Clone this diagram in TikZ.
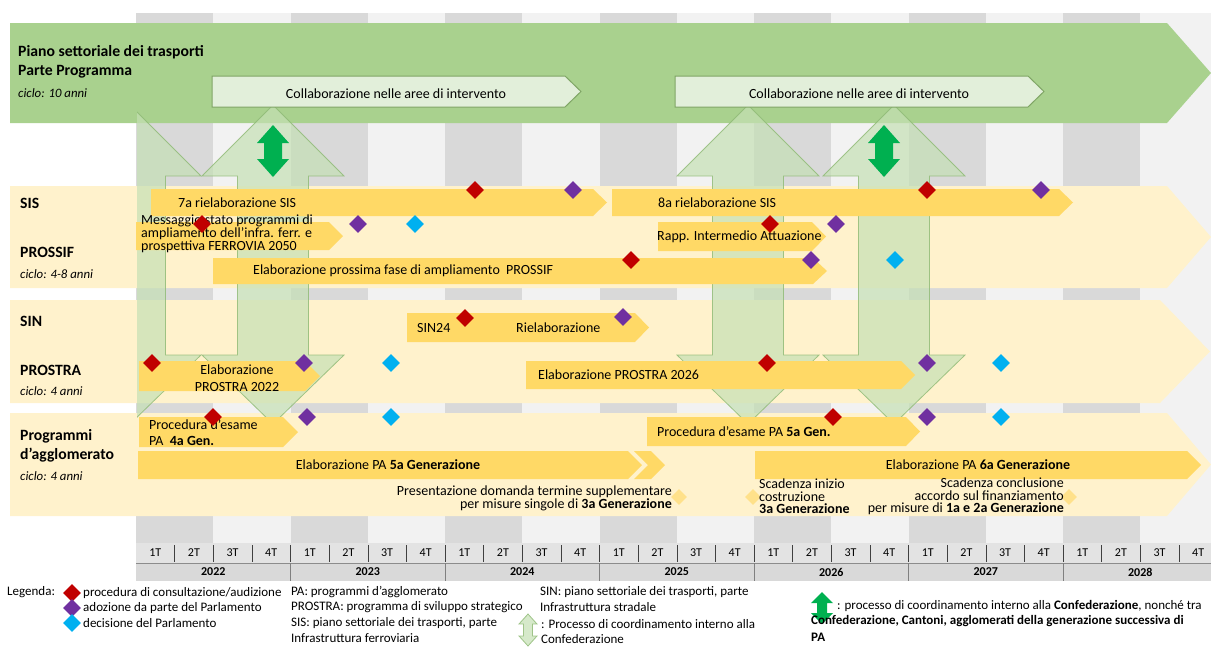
\documentclass[tikz,border=0pt]{standalone}
\usepackage{fontspec}
\setmainfont{Carlito}
\usetikzlibrary{shapes.geometric}
\definecolor{pstgreen}{HTML}{A9D18E}
\definecolor{collabfill}{HTML}{E2EFDA}
\definecolor{collabline}{HTML}{7FA565}
\definecolor{bandyellow}{HTML}{FFF2CC}
\definecolor{barorange}{HTML}{FFD966}
\definecolor{stripegray}{HTML}{D9D9D9}
\definecolor{stripelight}{HTML}{F2F2F2}
\definecolor{coordfill}{HTML}{C5E0B4}
\definecolor{coordline}{HTML}{8DB973}
\definecolor{coordgreen}{HTML}{00B050}
\definecolor{consred}{HTML}{C00000}
\definecolor{adopurple}{HTML}{7030A0}
\definecolor{decblue}{HTML}{00B0F0}
\definecolor{milestone}{HTML}{FFE18A}
\definecolor{axisgray}{HTML}{D9D9D9}
\definecolor{axisrow}{HTML}{E3E3E3}
\begin{document}
\begin{tikzpicture}[x=1pt,y=-1pt,
	txt/.style={inner sep=0pt,font=\fontsize{14}{12}\selectfont},
	lbl/.style={inner sep=0pt,anchor=west,font=\fontsize{15.7}{15}\selectfont\bfseries},
	cyc/.style={inner sep=0pt,anchor=west,font=\fontsize{12.8}{13}\selectfont\itshape},
	leg/.style={inner sep=0pt,anchor=west,font=\fontsize{13}{15}\selectfont},
	axl/.style={inner sep=0pt,font=\fontsize{12}{12}\selectfont},
	ganttbar/.style={fill=barorange},
	diam/.style={diamond,inner sep=0pt,minimum width=18pt,minimum height=18pt},
	cons/.style={diam,fill=consred},
	adop/.style={diam,fill=adopurple},
	deci/.style={diam,fill=decblue},
	mstone/.style={diamond,inner sep=0pt,minimum width=16pt,minimum height=16pt,fill=milestone},
	coord/.style={fill=coordfill,fill opacity=0.7,draw=coordline,draw opacity=0.8,line width=0.8pt}]
	\useasboundingbox (0,0) rectangle (1211,646);
	\foreach \k in {0,...,6} {
		\fill[stripegray] ({136+154.5*\k},13) rectangle ({213.25+154.5*\k},543);
		\fill[stripelight] ({213.25+154.5*\k},13) rectangle ({min(290.5+154.5*\k,1211)},543);
	}
	\fill[pstgreen] (10,23) -- (1167,23) -- (1211,73) -- (1167,123) -- (10,123) -- cycle;
	\fill[bandyellow] (10,186) -- (1167,186) -- (1211,237) -- (1167,288) -- (10,288) -- cycle;
	\fill[bandyellow] (10,300) -- (1160,300) -- (1210,351.5) -- (1160,403) -- (10,403) -- cycle;
	\fill[bandyellow] (10,413) -- (1167,413) -- (1211,464.5) -- (1167,516) -- (10,516) -- cycle;
	\begin{scope}
		\clip (137,0) rectangle (1211,646);
		\draw[coord] (130,105) -- (201,176) -- (165.5,176) -- (165.5,355) -- (201,355) -- (130,424) -- (59,355) -- (94.5,355) -- (94.5,176) -- (59,176) -- cycle;
	\end{scope}
	\draw[coord] (273,105) -- (344,176) -- (308.5,176) -- (308.5,355) -- (344,355) -- (273,424) -- (202,355) -- (237.5,355) -- (237.5,176) -- (202,176) -- cycle;
	\draw[coord] (748,105) -- (819,176) -- (783.5,176) -- (783.5,355) -- (819,355) -- (748,424) -- (677,355) -- (712.5,355) -- (712.5,176) -- (677,176) -- cycle;
	\draw[coord] (894,105) -- (965,176) -- (929.5,176) -- (929.5,355) -- (965,355) -- (894,424) -- (823,355) -- (858.5,355) -- (858.5,176) -- (823,176) -- cycle;
	\draw[fill=collabfill, draw=collabline, line width=1pt] (212,76) -- (565,76) -- (581,91.5) -- (565,107) -- (212,107) -- cycle;
	\draw[fill=collabfill, draw=collabline, line width=1pt] (675,76) -- (1028,76) -- (1044,91.5) -- (1028,107) -- (675,107) -- cycle;
	\node[txt] (collab1) at (396,94) {Collaborazione nelle aree di intervento};
	\node[txt] (collab2) at (859,94) {Collaborazione nelle aree di intervento};
	\fill[coordgreen] (273,125) -- (289,143) -- (282,143) -- (282,159) -- (289,159) -- (273,177) -- (257,159) -- (264,159) -- (264,143) -- (257,143) -- cycle;
	\fill[coordgreen] (884,125) -- (900,143) -- (893,143) -- (893,159) -- (900,159) -- (884,177) -- (868,159) -- (875,159) -- (875,143) -- (868,143) -- cycle;
	\node[lbl] (pst) at (18,52) {Piano settoriale dei trasporti};
	\node[lbl] (pstprog) at (18,72) {Parte Programma};
	\node[cyc] (pstcyc) at (18,93) {ciclo: 10 anni};
	\node[lbl] (sis) at (20,203) {SIS};
	\node[lbl] (prossif) at (20,252) {PROSSIF};
	\node[cyc] (prossifcyc) at (20,274) {ciclo: 4-8 anni};
	\node[lbl] (sin) at (20,321) {SIN};
	\node[lbl] (prostra) at (20,370) {PROSTRA};
	\node[cyc] (prostracyc) at (20,391) {ciclo: 4 anni};
	\node[lbl] (pa) at (20,436) {Programmi};
	\node[lbl] (paaggl) at (20,455) {d’agglomerato};
	\node[cyc] (pacyc) at (20,476) {ciclo: 4 anni};
	\fill[ganttbar] (151,189) -- (593,189) -- (607,202.5) -- (593,216) -- (151,216) -- cycle;
	\fill[ganttbar] (612,189) -- (1059,189) -- (1073,202.5) -- (1059,216) -- (612,216) -- cycle;
	\fill[ganttbar] (136,222) -- (329,222) -- (343,236) -- (329,250) -- (136,250) -- cycle;
	\fill[ganttbar] (213,258) -- (813,258) -- (827,271) -- (813,284) -- (213,284) -- cycle;
	\fill[ganttbar] (658,222) -- (812,222) -- (826,236.5) -- (812,251) -- (658,251) -- cycle;
	\fill[ganttbar] (407,313) -- (635,313) -- (649,327.5) -- (635,342) -- (407,342) -- cycle;
	\fill[ganttbar] (139,361) -- (305,361) -- (320,376) -- (305,391) -- (139,391) -- cycle;
	\fill[ganttbar] (526,361) -- (901,361) -- (915,375) -- (901,389) -- (526,389) -- cycle;
	\fill[ganttbar] (139,417) -- (283,417) -- (298,432) -- (283,447) -- (139,447) -- cycle;
	\fill[ganttbar] (138,451) -- (628,451) -- (642,465) -- (628,479) -- (138,479) -- cycle;
	\fill[ganttbar] (634,451) -- (651,451) -- (665,465) -- (651,479) -- (634,479) -- (648,465) -- cycle;
	\fill[ganttbar] (647,417) -- (906,417) -- (920,431.5) -- (906,446) -- (647,446) -- cycle;
	\fill[ganttbar] (755,451) -- (1187,451) -- (1201,465) -- (1187,479) -- (755,479) -- cycle;
	\node[txt, anchor=west] (sis7) at (178,203) {7a rielaborazione SIS};
	\node[txt, anchor=west] (sis8) at (658,203) {8a rielaborazione SIS};
	\node[txt, anchor=west, align=left, font=\fontsize{14}{11}\selectfont] (msg) at (141,234) {Messaggio stato programmi di\\ampliamento dell’infra. ferr. e\\prospettiva FERROVIA 2050};
	\node[txt, anchor=west] (elabprossif) at (253,271) {Elaborazione prossima fase di ampliamento\ \ PROSSIF};
	\node[txt, anchor=west] (rapp) at (657,237) {Rapp. Intermedio Attuazione};
	\node[txt, anchor=west] (sin24) at (417,328) {SIN24};
	\node[txt, anchor=west] (sinriel) at (516,328) {Rielaborazione};
	\node[txt, align=center, font=\fontsize{14}{17.5}\selectfont] (prostra22) at (237,378) {Elaborazione\\PROSTRA 2022};
	\node[txt, anchor=west] (prostra26) at (538,375) {Elaborazione PROSTRA 2026};
	\node[txt, anchor=west, align=left, font=\fontsize{14}{16}\selectfont] (proc4) at (149,433) {Procedura d’esame\\PA\ \ \textbf{4a Gen.}};
	\node[txt] (elab5) at (388,465) {Elaborazione PA \textbf{5a Generazione}};
	\node[txt, anchor=west] (proc5) at (657,432) {Procedura d’esame PA \textbf{5a Gen.}};
	\node[txt] (elab6) at (978,465) {Elaborazione PA \textbf{6a Generazione}};
	\node[mstone] (ms1) at (679,497) {};
	\node[mstone] (ms2) at (753,497) {};
	\node[mstone] (ms3) at (1069,497) {};
	\node[txt, anchor=east, align=right] (pres) at (672,498) {Presentazione domanda termine supplementare\\per misure singole di \textbf{3a Generazione}};
	\node[txt, anchor=west, align=left, font=\fontsize{14}{12.5}\selectfont] (scad1) at (759,496.5) {Scadenza inizio\\costruzione\\\textbf{3a Generazione}};
	\node[txt, anchor=east, align=right, font=\fontsize{14}{12.5}\selectfont] (scad2) at (1064,496.5) {Scadenza conclusione\\accordo sul finanziamento\\per misure di \textbf{1a e 2a Generazione}};
	\node[cons] (c1) at (475,190) {};
	\node[adop] (a1) at (573,190) {};
	\node[cons] (c2) at (927,190) {};
	\node[adop] (a2) at (1041,190) {};
	\node[cons] (c3) at (202,224) {};
	\node[adop] (a3) at (358,224) {};
	\node[deci] (d1) at (415,224) {};
	\node[cons] (c4) at (770,224) {};
	\node[adop] (a4) at (836,224) {};
	\node[cons] (c5) at (631,260) {};
	\node[adop] (a5) at (811,260) {};
	\node[deci] (d2) at (895,260) {};
	\node[cons] (c6) at (465,318) {};
	\node[adop] (a6) at (623,317) {};
	\node[cons] (c7) at (152,363) {};
	\node[adop] (a7) at (304,363) {};
	\node[deci] (d3) at (391,363) {};
	\node[cons] (c8) at (767,363) {};
	\node[adop] (a8) at (927,363) {};
	\node[deci] (d4) at (1001,363) {};
	\node[cons] (c9) at (213,417) {};
	\node[adop] (a9) at (307,417) {};
	\node[deci] (d5) at (391,417) {};
	\node[cons] (c10) at (833,417) {};
	\node[adop] (a10) at (927,417) {};
	\node[deci] (d6) at (1001,417) {};
	\fill[axisrow] (136,543) rectangle (1211,563);
	\fill[axisgray] (136,563) rectangle (1211,581);
	\draw[black!45] (136,563) -- (1211,563);
	\foreach \q in {1,...,27}
		\draw[black!75] ({136+38.625*\q},545) -- ({136+38.625*\q},562);
	\foreach \k in {1,...,6}
		\draw[black!50] ({136+154.5*\k},563) -- ({136+154.5*\k},581);
	\foreach \k in {0,...,6}
		\foreach \j in {1,...,4}
			\node[axl] (q\k\j) at ({136+154.5*\k+38.625*(\j-0.5)},553) {\j T};
	\foreach \y [count=\k from 0] in {2022,...,2028}
		\node[axl, font=\fontsize{12}{12}\selectfont\bfseries] (y\y) at ({136+154.5*\k+77.25},572) {\y};
	\node[leg] (legenda) at (7,592) {Legenda:};
	\node[cons] (lc) at (72,593) {};
	\node[adop] (la) at (72,608) {};
	\node[deci] (ld) at (72,623) {};
	\node[leg] (lctxt) at (83,593) {procedura di consultazione/audizione};
	\node[leg] (latxt) at (83,608) {adozione da parte del Parlamento};
	\node[leg] (ldtxt) at (83,623) {decisione del Parlamento};
	\node[leg] (lpa) at (291,592) {PA: programmi d’agglomerato};
	\node[leg] (lprostra) at (291,607.5) {PROSTRA: programma di sviluppo strategico};
	\node[leg] (lsis) at (291,623) {SIS: piano settoriale dei trasporti, parte};
	\node[leg] (lsis2) at (291,638.5) {Infrastruttura ferroviaria};
	\node[leg] (lsin) at (540,592) {SIN: piano settoriale dei trasporti, parte};
	\node[leg] (lsin2) at (540,607.5) {Infrastruttura stradale};
	\draw[coord] (528,614) -- (537,624) -- (532.5,624) -- (532.5,636) -- (537,636) -- (528,646) -- (519,636) -- (523.5,636) -- (523.5,624) -- (519,624) -- cycle;
	\node[leg] (lcoord) at (541,624) {: Processo di coordinamento interno alla};
	\node[leg] (lcoord2) at (541,639.5) {Confederazione};
	\fill[coordgreen] (822,592) -- (833,603) -- (827,603) -- (827,613) -- (833,613) -- (822,624) -- (811,613) -- (817,613) -- (817,603) -- (811,603) -- cycle;
	\node[leg] (lcg) at (837,606) {: processo di coordinamento interno alla \textbf{Confederazione}, nonché tra};
	\node[leg] (lcg2) at (811,621.5) {\textbf{Confederazione, Cantoni, agglomerati della generazione successiva di}};
	\node[leg] (lcg3) at (811,637) {\textbf{PA}};
\end{tikzpicture}
\end{document}
